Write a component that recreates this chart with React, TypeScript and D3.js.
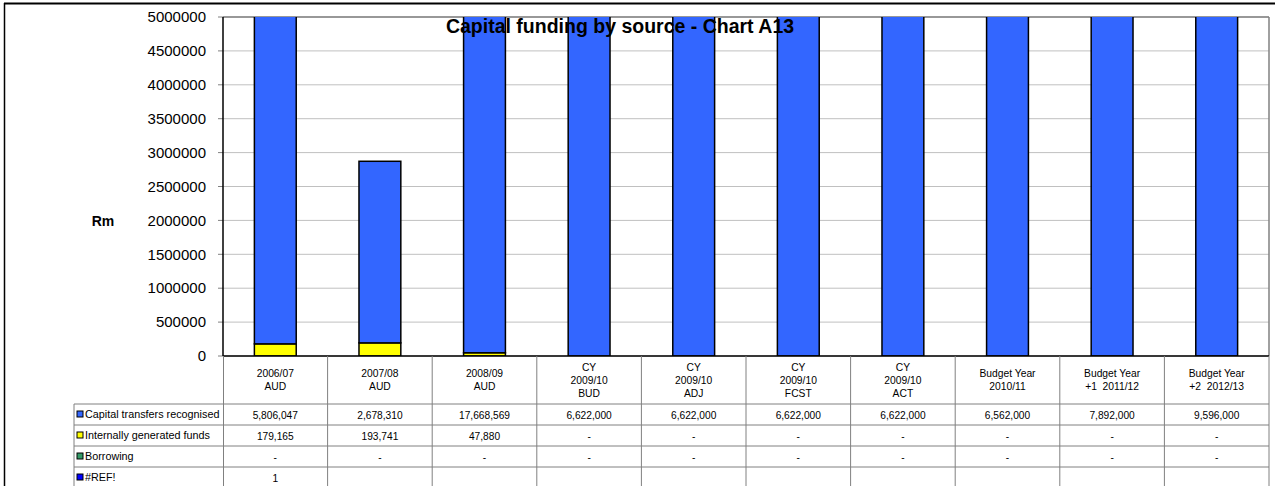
import * as d3 from "d3";

const categories = [
  ["2006/07", "AUD"],
  ["2007/08", "AUD"],
  ["2008/09", "AUD"],
  ["CY", "2009/10", "BUD"],
  ["CY", "2009/10", "ADJ"],
  ["CY", "2009/10", "FCST"],
  ["CY", "2009/10", "ACT"],
  ["Budget Year", "2010/11"],
  ["Budget Year", "+1  2011/12"],
  ["Budget Year", "+2  2012/13"],
];
const capitalTransfers = [5806047, 2678310, 17668569, 6622000, 6622000, 6622000, 6622000, 6562000, 7892000, 9596000];
const internalFunds = [179165, 193741, 47880, 0, 0, 0, 0, 0, 0, 0];
const borrowing = [0, 0, 0, 0, 0, 0, 0, 0, 0, 0];
const refValues = [1, null, null, null, null, null, null, null, null, null];
const yTicks = [0, 500000, 1000000, 1500000, 2000000, 2500000, 3000000, 3500000, 4000000, 4500000, 5000000];

const seriesNames = ["Capital transfers recognised", "Internally generated funds", "Borrowing", "#REF!"];
const seriesColors = ["#3366ff", "#ffff00", "#339966", "#0000ff"];

const W = 1275;
const H = 486;
const plot = { left: 223, right: 1269, top: 17, bottom: 356 };
const tableLeft = 74;
const rowTops = [404, 425, 446, 467, 488];
const font = "'Liberation Sans', Arial, sans-serif";

export default function App() {
  const x = d3
    .scaleBand<number>()
    .domain(d3.range(categories.length))
    .range([plot.left, plot.right])
    .paddingInner(0)
    .paddingOuter(0);
  const y = d3.scaleLinear().domain([0, 5000000]).range([plot.bottom, plot.top]);

  const rows = categories.map((_, i) => ({
    internal: internalFunds[i],
    borrowing: borrowing[i],
    ref: refValues[i] ?? 0,
    capital: capitalTransfers[i],
  }));
  // yellow sits at the bottom of each column
  const stacked = d3.stack<any>().keys(["internal", "borrowing", "ref", "capital"])(rows);
  const stackColors: Record<string, string> = {
    internal: seriesColors[1],
    borrowing: seriesColors[2],
    ref: seriesColors[3],
    capital: seriesColors[0],
  };

  const barW = x.bandwidth() * 0.4;
  const fmt = d3.format(",");
  const tableRows = [capitalTransfers, internalFunds, borrowing, refValues];

  return (
    <div style={{ position: "absolute", left: 0, top: 0 }}>
      <svg width={W} height={H} style={{ display: "block", fontFamily: font }}>
        <rect width={W} height={H} fill="#fff" />
        <defs>
          <clipPath id="plotClip">
            <rect x={plot.left} y={plot.top} width={plot.right - plot.left} height={plot.bottom - plot.top} />
          </clipPath>
        </defs>

        {/* outer frame */}
        <line x1={4} x2={W} y1={3.5} y2={3.5} stroke="#000" strokeWidth={2} />
        <line x1={4.5} x2={4.5} y1={3} y2={H} stroke="#000" strokeWidth={1.5} />

        {/* gridlines */}
        {yTicks.map((t) => (
          <g key={t}>
            <line x1={plot.left} x2={plot.right} y1={y(t)} y2={y(t)} stroke="#c0c0c0" strokeWidth={1} />
            <line x1={plot.left - 5} x2={plot.left} y1={y(t)} y2={y(t)} stroke="#808080" />
            <text x={206} y={y(t)} dy="0.35em" textAnchor="end" fontSize={15} fill="#000">
              {t}
            </text>
          </g>
        ))}
        <line x1={plot.right} x2={plot.right} y1={plot.top} y2={plot.bottom} stroke="#808080" strokeWidth={1.5} />
        <line x1={plot.left} x2={plot.right} y1={plot.top} y2={plot.top} stroke="#808080" strokeWidth={1.5} />

        {/* bars */}
        <g clipPath="url(#plotClip)">
          {stacked.map((s) =>
            s.map((d, i) => {
              const h = y(d[0]) - y(d[1]);
              if (h <= 0.5) return null;
              return (
                <rect
                  key={s.key + i}
                  x={(x(i) as number) + (x.bandwidth() - barW) / 2}
                  y={y(d[1])}
                  width={barW}
                  height={h}
                  fill={stackColors[s.key]}
                  stroke="#000"
                  strokeWidth={1.5}
                />
              );
            })
          )}
        </g>

        {/* axes */}
        <line x1={plot.left} x2={plot.left} y1={plot.top} y2={plot.bottom} stroke="#000" strokeWidth={1.5} />
        <line x1={plot.left} x2={plot.right} y1={plot.bottom} y2={plot.bottom} stroke="#000" strokeWidth={1.5} />

        <text x={620} y={33} textAnchor="middle" fontSize={19.5} fontWeight="bold" fill="#000">
          Capital funding by source - Chart A13
        </text>
        <text x={103} y={221} dy="0.35em" textAnchor="middle" fontSize={14} fontWeight="bold" fill="#000">
          Rm
        </text>

        {/* data table */}
        {categories.map((c, i) => {
          const left = x(i) as number;
          const cx = left + x.bandwidth() / 2;
          return (
            <g key={"col" + i}>
              <line x1={left + x.bandwidth()} x2={left + x.bandwidth()} y1={plot.bottom} y2={H} stroke="#808080" />
              {c.map((line, j) => (
                <text
                  key={j}
                  x={cx}
                  y={380 + (j - (c.length - 1) / 2) * 13}
                  dy="0.35em"
                  textAnchor="middle"
                  fontSize={10.3}
                  fill="#000"
                  style={{ whiteSpace: "pre" }}
                >
                  {line}
                </text>
              ))}
              {tableRows.map((vals, r) => {
                const v = vals[i];
                const label = v === null ? "" : v === 0 ? "-" : fmt(v);
                return (
                  <text
                    key={"v" + r}
                    x={cx}
                    y={(rowTops[r] + rowTops[r + 1]) / 2 + 1}
                    dy="0.35em"
                    textAnchor="middle"
                    fontSize={10.2}
                    fill="#000"
                  >
                    {label}
                  </text>
                );
              })}
            </g>
          );
        })}
        <line x1={plot.left + 0.5} x2={plot.left + 0.5} y1={plot.bottom} y2={H} stroke="#808080" />
        <line x1={tableLeft} x2={tableLeft} y1={rowTops[0]} y2={H} stroke="#808080" />
        {rowTops.slice(0, 4).map((t, r) => (
          <line key={"h" + r} x1={tableLeft} x2={plot.right} y1={t} y2={t} stroke="#808080" />
        ))}
        {seriesNames.map((name, r) => {
          const cy = (rowTops[r] + rowTops[r + 1]) / 2;
          return (
            <g key={name}>
              <rect x={77} y={cy - 3.5} width={6} height={6} fill={seriesColors[r]} stroke="#000" strokeWidth={1} />
              <text x={85} y={cy} dy="0.35em" fontSize={10.8} fill="#000">
                {name}
              </text>
            </g>
          );
        })}
      </svg>
    </div>
  );
}
